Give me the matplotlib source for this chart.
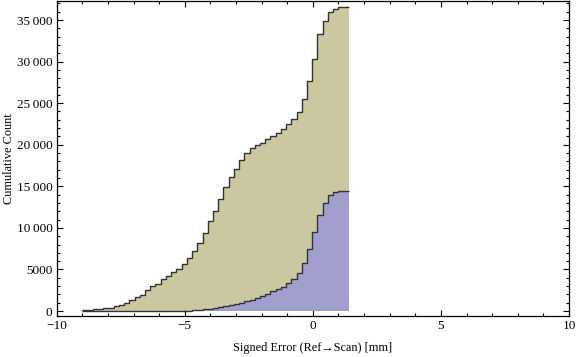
import numpy as np
import matplotlib
matplotlib.use("Agg")
import matplotlib.pyplot as plt
from matplotlib.ticker import MultipleLocator, FuncFormatter

# Histogram bins (cumulative counts)
bin_start = -9.0
bin_width = 0.204
tan_counts = [150, 150, 220, 220, 360, 360, 600, 720, 960, 1300,
              1650, 1960, 2470, 2970, 3280, 3810, 4170, 4650, 5110, 5630,
              6340, 7160, 8140, 9340, 10790, 12070, 13530, 14960, 16060, 17120,
              18110, 18970, 19570, 19930, 20250, 20650, 21090, 21450, 21930, 22450,
              23060, 23900, 25460, 27630, 30350, 33350, 34920, 35960, 36320, 36520,
              36540]
blue_counts = [0, 0, 0, 0, 0, 0, 0, 0, 0, 0,
               0, 0, 0, 0, 0, 0, 0, 0, 0, 0,
               40, 120, 120, 200, 200, 320, 440, 640, 760, 880,
               1000, 1200, 1360, 1560, 1860, 2090, 2370, 2610, 2930, 3330,
               3810, 4530, 5730, 7420, 9460, 11550, 12950, 13950, 14270, 14430,
               14430]

x_label = "Signed Error (Ref\u2192Scan) [mm]"
y_label = "Cumulative Count"

tan = "#CBC7A1"
blue = "#A09FCD"
edge = "#333333"

plt.rcParams['font.family'] = ['Liberation Serif', 'DejaVu Serif']

fig = plt.figure(figsize=(5.76, 3.57), dpi=100)
ax = fig.add_axes([56.7 / 576, 1 - 316 / 357, (569 - 56.7) / 576, (316 - 1) / 357])

edges = bin_start + bin_width * np.arange(len(tan_counts) + 1)

ax.stairs(tan_counts, edges, fill=True, color=tan, baseline=0, lw=0, zorder=1)
ax.stairs(tan_counts, edges, baseline=None, color=edge, lw=1.0, zorder=2)
ax.stairs(blue_counts, edges, fill=True, color=blue, baseline=0, lw=0, zorder=3)
ax.stairs(blue_counts, edges, baseline=None, color=edge, lw=1.0, zorder=4)

ax.set_xlim(-10, 10)
ax.set_ylim(-600, 37290)

ax.xaxis.set_major_locator(MultipleLocator(5))
ax.xaxis.set_minor_locator(MultipleLocator(1))
ax.yaxis.set_major_locator(MultipleLocator(5000))
ax.yaxis.set_minor_locator(MultipleLocator(1000))

def fmt_y(v, pos):
    v = int(round(v))
    if v >= 10000:
        s = f"{v:,}".replace(",", "\u2009")
    else:
        s = str(v)
    return s

def fmt_x(v, pos):
    v = int(round(v))
    return ("\u2212" + str(-v)) if v < 0 else str(v)

ax.yaxis.set_major_formatter(FuncFormatter(fmt_y))
ax.xaxis.set_major_formatter(FuncFormatter(fmt_x))

ax.tick_params(which='both', direction='in', top=True, right=True,
               labelsize=9.5, width=0.8, colors='black')
ax.tick_params(which='major', length=4.5, pad=3)
ax.tick_params(which='minor', length=2.5)
for s in ax.spines.values():
    s.set_linewidth(0.9)
    s.set_color('black')

ax.set_xlabel(x_label, fontsize=8.8)
ax.set_ylabel(y_label, fontsize=8.8)
ax.xaxis.set_label_coords(0.5, -26 / 315, transform=ax.transAxes)
ax.yaxis.set_label_coords(-42 / 512.3, 0.5, transform=ax.transAxes)

fig.savefig("out.png", dpi=100)
